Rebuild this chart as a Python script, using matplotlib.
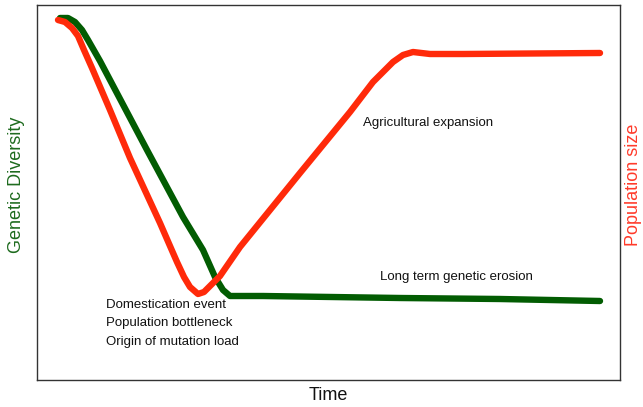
import matplotlib
matplotlib.use("Agg")
import matplotlib.pyplot as plt

plt.rcParams['font.family'] = ['Liberation Sans', 'DejaVu Sans']

# Time axis (0-583) and values (0-375, higher = more)
green_t = [23, 31, 38, 45, 51, 63, 110, 146, 166, 178, 186, 193, 203, 226, 363, 463, 563]
green_v = [362, 362, 358, 350, 340, 319, 230, 163, 130, 103, 90, 84, 84, 84, 82, 81, 79]

red_t = [21, 28, 35, 41, 47, 55, 73, 93, 123, 133, 140, 147, 153, 161, 167, 173, 183, 203, 263, 313, 336, 348, 356, 366, 376, 393, 426, 563]
red_v = [360, 358, 352, 344, 330, 312, 270, 222, 157, 134, 118, 103, 93, 86, 88, 94, 104, 133, 207, 268, 298, 310, 318, 325, 328, 326, 326, 327]

annotations = ["Agricultural expansion", "Long term genetic erosion"]
bottleneck_lines = ["Domestication event", "Population bottleneck", "Origin of mutation load"]

fig = plt.figure(figsize=(6.43, 4.07), dpi=100)
ax = fig.add_axes([37/643, 1 - 380/407, 583/643, 375/407])
ax.set_xlim(0, 583)
ax.set_ylim(0, 375)
ax.set_xticks([])
ax.set_yticks([])
for s in ax.spines.values():
    s.set_color('#333333')
    s.set_linewidth(1.0)

ax.plot(green_t, green_v, color='#025c02', lw=4.6, solid_capstyle='round', solid_joinstyle='round', zorder=2)
ax.plot(red_t, red_v, color='#ff2a0a', lw=4.6, solid_capstyle='round', solid_joinstyle='round', zorder=3)

ax.text(363 - 37, 380 - 123, annotations[0], fontsize=9.5, va='center', ha='left', color='#111111')
ax.text(380 - 37, 380 - 277, annotations[1], fontsize=9.5, va='center', ha='left', color='#111111')
for i, line in enumerate(bottleneck_lines):
    ax.text(106 - 37, 380 - (305 + 18.3 * i), line, fontsize=9.5, va='center', ha='left', color='#111111')

fig.text(17/643, 1 - 185/407, "Genetic Diversity", rotation=90, color='#1e6b1e', fontsize=13, ha='center', va='center')
fig.text(633/643, 1 - 185/407, "Population size", rotation=90, color='#ff3a2a', fontsize=13, ha='center', va='center')
fig.text(328/643, 1 - 395/407, "Time", color='#111111', fontsize=13, ha='center', va='center')

fig.savefig("out.png", dpi=100)
